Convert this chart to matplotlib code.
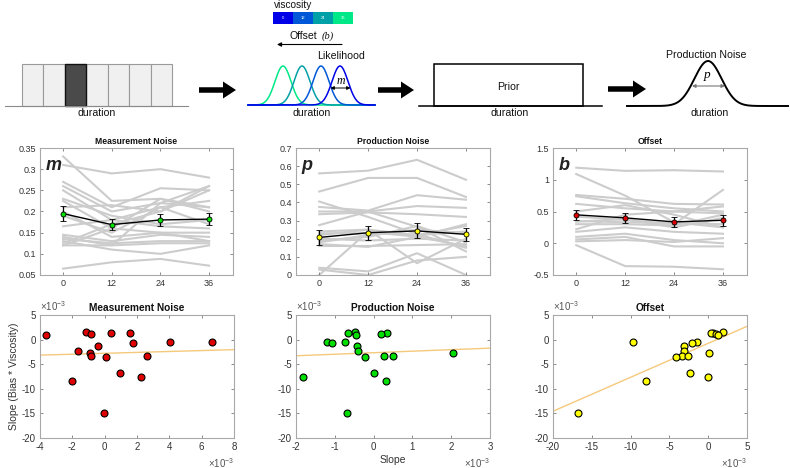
import numpy as np
import matplotlib
matplotlib.use('Agg')
import matplotlib.pyplot as plt
from matplotlib.patches import Rectangle, FancyArrow
from matplotlib.ticker import FuncFormatter

plt.rcParams['font.family'] = ['Liberation Sans', 'DejaVu Sans']
plt.rcParams['axes.unicode_minus'] = False
plt.rcParams['mathtext.default'] = 'regular'

# ---------------- data ----------------
viscosity = [0, 12, 24, 36]
viscosity_labels = ['0', '12', '24', '36']
viscosity_colors = ['#0000e8', '#0058d8', '#00a0a8', '#00e888']
n_bins = 7
highlight_bin = 2

# per-subject parameter estimates at each viscosity level
meas_subjects = [
    [0.310, 0.290, 0.300, 0.280],
    [0.330, 0.225, 0.230, 0.210],
    [0.270, 0.210, 0.255, 0.250],
    [0.260, 0.200, 0.220, 0.260],
    [0.250, 0.180, 0.210, 0.225],
    [0.230, 0.190, 0.170, 0.180],
    [0.225, 0.160, 0.230, 0.200],
    [0.210, 0.215, 0.200, 0.250],
    [0.200, 0.140, 0.150, 0.130],
    [0.190, 0.150, 0.210, 0.170],
    [0.165, 0.180, 0.165, 0.160],
    [0.145, 0.130, 0.145, 0.140],
    [0.140, 0.120, 0.220, 0.210],
    [0.135, 0.125, 0.130, 0.130],
    [0.130, 0.110, 0.100, 0.120],
    [0.120, 0.160, 0.150, 0.150],
    [0.120, 0.120, 0.125, 0.125],
    [0.065, 0.080, 0.088, 0.072],
    [0.125, 0.170, 0.200, 0.260],
]
meas_mean = [0.195, 0.169, 0.180, 0.182]
meas_err = [0.017, 0.013, 0.0135, 0.014]

prod_subjects = [
    [0.560, 0.575, 0.635, 0.525],
    [0.460, 0.535, 0.535, 0.430],
    [0.405, 0.320, 0.225, 0.150],
    [0.375, 0.355, 0.440, 0.415],
    [0.350, 0.350, 0.380, 0.370],
    [0.335, 0.345, 0.335, 0.320],
    [0.275, 0.350, 0.265, 0.130],
    [0.240, 0.250, 0.220, 0.270],
    [0.230, 0.230, 0.220, 0.240],
    [0.220, 0.250, 0.065, 0.200],
    [0.200, 0.190, 0.200, 0.190],
    [0.170, 0.155, 0.210, 0.280],
    [0.160, 0.160, 0.165, 0.170],
    [0.040, 0.020, 0.120, 0.000],
    [0.000, 0.240, 0.210, 0.160],
    [0.030, 0.000, 0.080, 0.100],
    [0.190, 0.210, 0.270, 0.180],
    [0.180, 0.220, 0.250, 0.230],
]
prod_mean = [0.207, 0.233, 0.243, 0.224]
prod_err = [0.042, 0.038, 0.041, 0.035]

off_subjects = [
    [1.19, 1.14, 1.15, 1.13],
    [1.09, 0.75, 0.33, 0.25],
    [0.76, 0.70, 0.62, 0.61],
    [0.74, 0.63, 0.55, 0.50],
    [0.62, 0.55, 0.50, 0.47],
    [0.50, 0.60, 0.45, 0.25],
    [0.42, 0.37, 0.30, 0.84],
    [0.35, 0.33, 0.32, 0.30],
    [0.30, 0.30, 0.28, 0.45],
    [0.22, 0.45, 0.50, 0.58],
    [0.18, 0.25, 0.18, 0.15],
    [0.10, 0.15, 0.05, 0.00],
    [0.06, 0.10, -0.05, -0.05],
    [0.03, 0.05, 0.02, 0.08],
    [-0.03, -0.36, -0.37, -0.41],
    [0.34, 0.38, 0.25, 0.40],
]
off_mean = [0.447, 0.400, 0.336, 0.362]
off_err = [0.082, 0.080, 0.077, 0.087]

# slopes (in units of 1e-3)
SCALE = 1e-3
bias_slope = [1.5, 1.38, 1.3, 1.17, 1.0, -0.4, -0.46, -0.65, -1.28, -2.38,
              -2.65, -3.25, -3.3, -3.45, -6.75, -7.7, -8.39, -15.0]
meas_slope = [-1.13, 0.41, 1.54, -0.86, -3.63, 4.02, 6.63, 1.76, -0.43, -1.62,
              -0.88, -0.82, 2.6, 0.08, 0.94, 2.26, -2.05, -0.04]
prod_slope = [-0.47, -0.66, 0.35, 0.19, -0.45, -0.73, -1.21, -1.07, -0.42, -0.40,
              2.05, 0.28, 0.5, -0.22, 0.01, -1.82, 0.33, -0.68]
off_slope = [1.9, 0.62, 0.4, 1.05, 1.27, -1.49, -9.69, -2.13, -3.16, -3.16,
             0.06, -3.38, -2.6, -4.1, -2.4, -0.07, -8.02, -16.78]

# ---------------- figure ----------------
W, H = 790, 468
fig = plt.figure(figsize=(W / 100, H / 100), dpi=100)
TXT = '#333333'
SPINE = '#a8a8a8'


def px_axes(left, top, right, bottom):
    return fig.add_axes([left / W, 1 - bottom / H, (right - left) / W, (bottom - top) / H])


# ---------- schematic ----------
ax_s = fig.add_axes([0, 1 - 125 / H, 1, 125 / H])
ax_s.set_xlim(0, W)
ax_s.set_ylim(125, 0)
ax_s.axis('off')
fs_s = 7.6

# panel 1: bins
bin_w = 150 / n_bins
for i in range(n_bins):
    if i == highlight_bin:
        continue
    ax_s.add_patch(Rectangle((22 + i * bin_w, 64), bin_w, 42, fc='#f0f0f0', ec='#9a9a9a', lw=0.8))
ax_s.add_patch(Rectangle((22 + highlight_bin * bin_w, 64), bin_w, 42, fc='#4a4a4a', ec='#111111', lw=1.0))
ax_s.plot([5, 188], [106, 106], color='#8a8a8a', lw=0.8)
ax_s.text(97, 113.5, 'duration', ha='center', va='center', fontsize=fs_s, color='#111')

# thick arrows
for x0, x1, yc in [(199, 236, 90), (378, 414, 90), (608, 646, 89)]:
    ax_s.add_patch(FancyArrow(x0, yc, x1 - x0, 0, width=5.5, head_width=17, head_length=13,
                              length_includes_head=True, color='black', lw=0))

# panel 2: likelihoods
xs = np.linspace(248, 375, 400)
for lev, col in list(zip(viscosity, viscosity_colors))[::-1]:
    c = 340 - lev * (57 / 36)
    ax_s.plot(xs, 105 - 39 * np.exp(-0.5 * ((xs - c) / 8.0) ** 2), color=col, lw=1.1)
ax_s.annotate('', xy=(350.5, 88), xytext=(330.5, 88),
              arrowprops=dict(arrowstyle='<|-|>', color='black', lw=0.7, mutation_scale=5,
                              shrinkA=0, shrinkB=0))
ax_s.text(340.5, 81, 'm', ha='center', va='center', fontsize=8.5, style='italic',
          family='Liberation Serif')
ax_s.text(341.5, 56, 'Likelihood', ha='center', va='center', fontsize=fs_s, color='#111')
ax_s.text(312, 113.5, 'duration', ha='center', va='center', fontsize=fs_s, color='#111')
ax_s.annotate('', xy=(277, 44.5), xytext=(342, 44.5),
              arrowprops=dict(arrowstyle='-|>', color='black', lw=0.8, mutation_scale=6,
                              shrinkA=0, shrinkB=0))
ax_s.text(289, 36, 'Offset', ha='left', va='center', fontsize=fs_s, color='#111')
ax_s.text(321.5, 36.5, '(b)', ha='left', va='center', fontsize=7.5, style='italic',
          family='Liberation Serif', color='#111')
# viscosity colorbar
for i, (lab, col) in enumerate(zip(viscosity_labels, viscosity_colors)):
    ax_s.add_patch(Rectangle((273 + i * 20, 12), 20, 11.5, fc=col, ec='none'))
    ax_s.text(283 + i * 20, 17.8, lab, ha='center', va='center', fontsize=3, color='white')
ax_s.text(273.5, 5.5, 'viscosity', ha='left', va='center', fontsize=7.3, color='#111')

# panel 3: prior
ax_s.add_patch(Rectangle((433.5, 64), 149, 42, fc='none', ec='black', lw=1.1))
ax_s.plot([419, 602], [106, 106], color='black', lw=1.1)
ax_s.text(508, 87.5, 'Prior', ha='center', va='center', fontsize=fs_s, color='#111')
ax_s.text(510, 113.5, 'duration', ha='center', va='center', fontsize=fs_s, color='#111')

# panel 4: production noise
xp = np.linspace(627, 788, 400)
ax_s.plot(xp, 106 - 45 * np.exp(-0.5 * ((xp - 708) / 13.6) ** 2), color='black', lw=1.4)
ax_s.annotate('', xy=(725, 86), xytext=(692, 86),
              arrowprops=dict(arrowstyle='<|-|>', color='#777777', lw=0.8, mutation_scale=5,
                              shrinkA=0, shrinkB=0))
ax_s.text(707.5, 75, 'p', ha='center', va='center', fontsize=9.5, style='italic',
          family='Liberation Serif')
ax_s.text(706, 55, 'Production Noise', ha='center', va='center', fontsize=fs_s, color='#111')
ax_s.text(710, 113.5, 'duration', ha='center', va='center', fontsize=fs_s, color='#111')


def style_axes(ax, fs):
    for sp in ax.spines.values():
        sp.set_color(SPINE)
        sp.set_linewidth(0.8)
    ax.tick_params(direction='in', top=True, right=True, length=2.5, width=0.6,
                   color='#777777', labelsize=fs, labelcolor=TXT, pad=3)


# ---------- middle row ----------
mid = [
    (40, 233, meas_subjects, meas_mean, meas_err, '#00e000', 'Measurement Noise', 'm',
     (0.05, 0.35), np.arange(0.05, 0.351, 0.05)),
    (296, 490, prod_subjects, prod_mean, prod_err, '#ffff00', 'Production Noise', 'p',
     (0.0, 0.7), np.arange(0.0, 0.71, 0.1)),
    (553, 747, off_subjects, off_mean, off_err, '#e00000', 'Offset', 'b',
     (-0.5, 1.5), np.arange(-0.5, 1.51, 0.5)),
]
for left, right, subj, mean, err, fc, title, letter, ylim, yt in mid:
    ax = px_axes(left, 148, right, 275)
    for s in subj:
        ax.plot(viscosity, s, color='#cccccc', lw=1.5, zorder=1)
    ax.errorbar(viscosity, mean, yerr=err, color='black', lw=1.0, capsize=2, capthick=0.9,
                elinewidth=0.9, marker='o', ms=3.6, mfc=fc, mec='black', mew=0.6, zorder=3)
    ax.set_xlim(-5.7, 41.9)
    ax.set_ylim(*ylim)
    ax.set_xticks(viscosity)
    ax.set_yticks(yt)
    ax.yaxis.set_major_formatter(FuncFormatter(lambda v, p: '%g' % round(v, 4)))
    style_axes(ax, 6.5)
    ax.set_title(title, fontsize=6.2, fontweight='bold', color='#111', pad=3)
    ax.text(0.03, 0.865, letter, transform=ax.transAxes, fontsize=13, fontweight='bold',
            style='italic', ha='left', va='center', color='#222')

# ---------- bottom row ----------
bot = [
    (40, 234, meas_slope, '#e00000', 'Measurement Noise', (-4, 8), np.arange(-4, 8.1, 2)),
    (296, 490, prod_slope, '#00e000', 'Production Noise', (-2, 3), np.arange(-2, 3.1, 1)),
    (553, 747, off_slope, '#ffff00', 'Offset', (-20, 5), np.arange(-20, 5.1, 5)),
]
milli = FuncFormatter(lambda v, p: '%g' % round(v / SCALE, 6))
exp_label = r'$\times10^{-3}$'
yv = np.array(bias_slope) * SCALE
for k, (left, right, xsl, fc, title, xlim, xt) in enumerate(bot):
    ax = px_axes(left, 315, right, 438)
    xv = np.array(xsl) * SCALE
    coef = np.polyfit(xv, yv, 1)
    xl = np.array(xlim) * SCALE
    ax.plot(xl, np.polyval(coef, xl), color='#f5c97c', lw=1.0, zorder=1)
    ax.plot(xv, yv, 'o', ms=5, mfc=fc, mec='black', mew=0.8, zorder=3)
    ax.set_xlim(*xl)
    ax.set_ylim(-20 * SCALE, 5 * SCALE)
    ax.set_xticks(xt * SCALE)
    ax.set_yticks(np.arange(-20, 5.1, 5) * SCALE)
    ax.xaxis.set_major_formatter(milli)
    ax.yaxis.set_major_formatter(milli)
    style_axes(ax, 7)
    ax.text(0.0, 1.015, exp_label, transform=ax.transAxes, ha='left', va='bottom',
            fontsize=7, color='#555555')
    ax.text(1.0, -0.2, exp_label, transform=ax.transAxes, ha='right', va='center',
            fontsize=7, color='#555555')
    ax.set_title(title, fontsize=7.3, fontweight='bold', color='#111', pad=3)
    if k == 0:
        ax.set_ylabel('Slope (Bias * Viscosity)', fontsize=7.5, color=TXT, labelpad=2)
    if k == 1:
        ax.set_xlabel('Slope', fontsize=7.5, color=TXT, labelpad=2)

fig.savefig('out.png', dpi=100)
